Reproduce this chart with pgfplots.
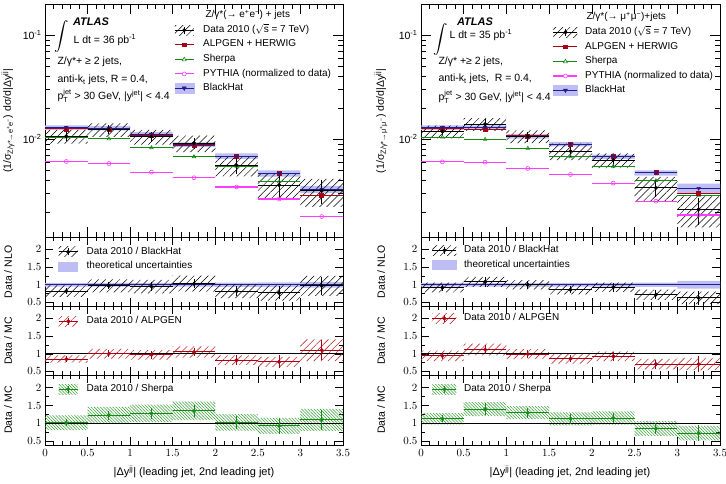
\documentclass[border=0pt]{standalone}
\usepackage{fontspec}
\setmainfont{Liberation Sans}
\usepackage{amsmath}
\usepackage{pgfplots}
\pgfplotsset{compat=1.18}
\usepackage{pgfplotstable}
\usetikzlibrary{patterns.meta}

\definecolor{alpred}{RGB}{170,0,20}
\definecolor{alphatchc}{RGB}{190,50,50}
\definecolor{shgreen}{RGB}{20,140,20}
\definecolor{shhatchc}{RGB}{60,160,60}
\definecolor{pymag}{RGB}{255,60,255}
\definecolor{bhblue}{RGB}{30,30,140}
\definecolor{bhband}{RGB}{190,190,245}

\newcommand{\txtfont}{\fontsize{10.5}{12}\selectfont}
\newcommand{\legfont}{\fontsize{10}{12}\selectfont}
\newcommand{\lblfont}{\fontsize{11}{13}\selectfont}

% Band tables: rows with k=1 run along the upper edge (bin low edges, last bin
% repeated at 3.5); rows with k=-1 come back along the lower edge.
% v = value, s = relative band half-width, t = relative statistical error.

% ---------------- electron channel ----------------
\pgfplotstableread{
e v s t k
0.0 0.0107 0.15 0.10 1
0.5 0.0124 0.15 0.10 1
1.0 0.0106 0.16 0.12 1
1.5 0.0092 0.18 0.12 1
2.0 0.00564 0.22 0.17 1
2.5 0.00363 0.28 0.24 1
3.0 0.0032 0.30 0.26 1
3.5 0.0032 0.30 0.26 1
3.5 0.0032 0.30 0.26 -1
3.0 0.00363 0.28 0.24 -1
2.5 0.00564 0.22 0.17 -1
2.0 0.0092 0.18 0.12 -1
1.5 0.0106 0.16 0.12 -1
1.0 0.0124 0.15 0.10 -1
0.5 0.0107 0.15 0.10 -1
0.0 0.0107 0.15 0.10 -1
}\elData
\pgfplotstableread{
e v s k
0.0 0.0130 0.05 1
0.5 0.0128 0.05 1
1.0 0.0112 0.05 1
1.5 0.0089 0.05 1
2.0 0.0069 0.06 1
2.5 0.0047 0.07 1
3.0 0.0033 0.08 1
3.5 0.0033 0.08 1
3.5 0.0033 0.08 -1
3.0 0.0047 0.07 -1
2.5 0.0069 0.06 -1
2.0 0.0089 0.05 -1
1.5 0.0112 0.05 -1
1.0 0.0128 0.05 -1
0.5 0.0130 0.05 -1
0.0 0.0130 0.05 -1
}\elBH
\pgfplotstableread{
e v s k
0.0 1 0.05 1
0.5 1 0.05 1
1.0 1 0.05 1
1.5 1 0.05 1
2.0 1 0.06 1
2.5 1 0.07 1
3.0 1 0.08 1
3.5 1 0.08 1
3.5 1 0.08 -1
3.0 1 0.07 -1
2.5 1 0.06 -1
2.0 1 0.05 -1
1.5 1 0.05 -1
1.0 1 0.05 -1
0.5 1 0.05 -1
0.0 1 0.05 -1
}\elTH
\pgfplotstableread{
e v
0.0 0.0126
0.5 0.0124
1.0 0.0109
1.5 0.0088
2.0 0.0069
2.5 0.0047
3.0 0.0029
}\elALP
\pgfplotstableread{
e v
0.0 0.0105
0.5 0.0101
1.0 0.0083
1.5 0.0068
2.0 0.0055
2.5 0.0039
3.0 0.0029
}\elSH
\pgfplotstableread{
e v
0.0 0.00612
0.5 0.00585
1.0 0.00483
1.5 0.00427
2.0 0.00348
2.5 0.00267
3.0 0.00181
}\elPY
\pgfplotstableread{
e v s t k
0.0 0.82 0.20 0.10 1
0.5 0.97 0.19 0.10 1
1.0 0.95 0.20 0.12 1
1.5 1.03 0.22 0.12 1
2.0 0.82 0.24 0.17 1
2.5 0.77 0.28 0.24 1
3.0 0.97 0.29 0.26 1
3.5 0.97 0.29 0.26 1
3.5 0.97 0.29 0.26 -1
3.0 0.77 0.28 0.24 -1
2.5 0.82 0.24 0.17 -1
2.0 1.03 0.22 0.12 -1
1.5 0.95 0.20 0.12 -1
1.0 0.97 0.19 0.10 -1
0.5 0.82 0.20 0.10 -1
0.0 0.82 0.20 0.10 -1
}\elRBH
\pgfplotstableread{
e v s t k
0.0 0.85 0.12 0.10 1
0.5 1.00 0.14 0.10 1
1.0 0.97 0.14 0.12 1
1.5 1.05 0.15 0.12 1
2.0 0.82 0.16 0.17 1
2.5 0.77 0.18 0.24 1
3.0 1.10 0.28 0.26 1
3.5 1.10 0.28 0.26 1
3.5 1.10 0.28 0.26 -1
3.0 0.77 0.18 0.24 -1
2.5 0.82 0.16 0.17 -1
2.0 1.05 0.15 0.12 -1
1.5 0.97 0.14 0.12 -1
1.0 1.00 0.14 0.10 -1
0.5 0.85 0.12 0.10 -1
0.0 0.85 0.12 0.10 -1
}\elRALP
\pgfplotstableread{
e v s t k
0.0 1.02 0.20 0.10 1
0.5 1.23 0.19 0.10 1
1.0 1.28 0.19 0.12 1
1.5 1.35 0.19 0.12 1
2.0 1.03 0.22 0.17 1
2.5 0.93 0.24 0.24 1
3.0 1.10 0.28 0.26 1
3.5 1.10 0.28 0.26 1
3.5 1.10 0.28 0.26 -1
3.0 0.93 0.24 0.24 -1
2.5 1.03 0.22 0.17 -1
2.0 1.35 0.19 0.12 -1
1.5 1.28 0.19 0.12 -1
1.0 1.23 0.19 0.10 -1
0.5 1.02 0.20 0.10 -1
0.0 1.02 0.20 0.10 -1
}\elRSH

% ---------------- muon channel ----------------
\pgfplotstableread{
e v s t k
0.0 0.0119 0.14 0.09 1
0.5 0.0140 0.14 0.12 1
1.0 0.0107 0.14 0.11 1
1.5 0.0077 0.18 0.12 1
2.0 0.0063 0.16 0.13 1
2.5 0.00342 0.27 0.18 1
3.0 0.00212 0.33 0.30 1
3.5 0.00212 0.33 0.30 1
3.5 0.00212 0.33 0.30 -1
3.0 0.00342 0.27 0.18 -1
2.5 0.0063 0.16 0.13 -1
2.0 0.0077 0.18 0.12 -1
1.5 0.0107 0.14 0.11 -1
1.0 0.0140 0.14 0.12 -1
0.5 0.0119 0.14 0.09 -1
0.0 0.0119 0.14 0.09 -1
}\muData
\pgfplotstableread{
e v s k
0.0 0.0130 0.05 1
0.5 0.0130 0.05 1
1.0 0.0107 0.05 1
1.5 0.0090 0.05 1
2.0 0.0068 0.05 1
2.5 0.00475 0.06 1
3.0 0.00338 0.11 1
3.5 0.00338 0.11 1
3.5 0.00338 0.11 -1
3.0 0.00475 0.06 -1
2.5 0.0068 0.05 -1
2.0 0.0090 0.05 -1
1.5 0.0107 0.05 -1
1.0 0.0130 0.05 -1
0.5 0.0130 0.05 -1
0.0 0.0130 0.05 -1
}\muBH
\pgfplotstableread{
e v s k
0.0 1 0.05 1
0.5 1 0.05 1
1.0 1 0.05 1
1.5 1 0.05 1
2.0 1 0.05 1
2.5 1 0.06 1
3.0 1 0.11 1
3.5 1 0.11 1
3.5 1 0.11 -1
3.0 1 0.06 -1
2.5 1 0.05 -1
2.0 1 0.05 -1
1.5 1 0.05 -1
1.0 1 0.05 -1
0.5 1 0.05 -1
0.0 1 0.05 -1
}\muTH
\pgfplotstableread{
e v
0.0 0.0127
0.5 0.0125
1.0 0.0108
1.5 0.0090
2.0 0.0068
2.5 0.0048
3.0 0.0030
}\muALP
\pgfplotstableread{
e v
0.0 0.0105
0.5 0.0100
1.0 0.0082
1.5 0.0068
2.0 0.0055
2.5 0.0040
3.0 0.0029
}\muSH
\pgfplotstableread{
e v
0.0 0.00607
0.5 0.00603
1.0 0.00524
1.5 0.00459
2.0 0.00379
2.5 0.00254
3.0 0.00187
}\muPY
\pgfplotstableread{
e v s t k
0.0 0.92 0.15 0.09 1
0.5 1.08 0.13 0.12 1
1.0 1.00 0.13 0.11 1
1.5 0.86 0.15 0.12 1
2.0 0.93 0.14 0.13 1
2.5 0.72 0.20 0.18 1
3.0 0.63 0.28 0.30 1
3.5 0.63 0.28 0.30 1
3.5 0.63 0.28 0.30 -1
3.0 0.72 0.20 0.18 -1
2.5 0.93 0.14 0.13 -1
2.0 0.86 0.15 0.12 -1
1.5 1.00 0.13 0.11 -1
1.0 1.08 0.13 0.12 -1
0.5 0.92 0.15 0.09 -1
0.0 0.92 0.15 0.09 -1
}\muRBH
\pgfplotstableread{
e v s t k
0.0 0.94 0.16 0.09 1
0.5 1.12 0.15 0.12 1
1.0 0.99 0.14 0.11 1
1.5 0.86 0.16 0.12 1
2.0 0.93 0.15 0.13 1
2.5 0.71 0.21 0.18 1
3.0 0.71 0.24 0.30 1
3.5 0.71 0.24 0.30 1
3.5 0.71 0.24 0.30 -1
3.0 0.71 0.21 0.18 -1
2.5 0.93 0.15 0.13 -1
2.0 0.86 0.16 0.12 -1
1.5 0.99 0.14 0.11 -1
1.0 1.12 0.15 0.12 -1
0.5 0.94 0.16 0.09 -1
0.0 0.94 0.16 0.09 -1
}\muRALP
\pgfplotstableread{
e v s t k
0.0 1.13 0.14 0.09 1
0.5 1.40 0.14 0.12 1
1.0 1.30 0.14 0.11 1
1.5 1.13 0.16 0.12 1
2.0 1.15 0.16 0.13 1
2.5 0.86 0.24 0.18 1
3.0 0.73 0.28 0.30 1
3.5 0.73 0.28 0.30 1
3.5 0.73 0.28 0.30 -1
3.0 0.86 0.24 0.18 -1
2.5 1.15 0.16 0.13 -1
2.0 1.13 0.16 0.12 -1
1.5 1.30 0.14 0.11 -1
1.0 1.40 0.14 0.12 -1
0.5 1.13 0.14 0.09 -1
0.0 1.13 0.14 0.09 -1
}\muRSH

\tikzset{
  datahatch/.style={draw=none, pattern={Lines[angle=45,distance=5pt,line width=0.5pt]}, pattern color=black},
  alphatch/.style={draw=none, pattern={Lines[angle=45,distance=5pt,line width=0.6pt]}, pattern color=alphatchc},
  shhatch/.style={draw=none, pattern={Lines[angle=-45,distance=2.2pt,line width=0.55pt]}, pattern color=shhatchc},
  theoband/.style={draw=none, fill=bhband},
  legtext/.style={anchor=base west, inner sep=0pt, font=\legfont},
}

% uncertainty band: one closed step outline, filled
\newcommand{\band}[2]{%
  \addplot[#2, const plot, forget plot]
    table[x=e, y expr={\thisrow{v}*(1+(\thisrow{k})*\thisrow{s})}] {#1};
}
% prediction: horizontal bin line with a marker at the bin centre
\newcommand{\mcline}[4]{%
  \addplot[only marks, color=#2, mark=#3, mark size=2pt, mark options={#4, line width=0.6pt},
    forget plot, skip coords between index={7}{16},
    error bars/.cd, x dir=both, x fixed=0.25, error mark=none,
    error bar style={line width=1.1pt, color=#2}]
    table[x expr=\thisrow{e}+0.25, y=v] {#1};
}
% measured points with bin width and statistical error
\newcommand{\datapts}[2]{%
  \addplot[only marks, color=#2, mark=*, mark size=1.8pt, forget plot,
    skip coords between index={7}{16},
    error bars/.cd, x dir=both, x fixed=0.25, y dir=both, y explicit relative,
    error mark=none, error bar style={line width=1pt, color=#2}]
    table[x expr=\thisrow{e}+0.25, y=v, y error=t] {#1};
}
% legend key only; its label is set as a separate text line beside it
\newcommand{\key}[1]{\addlegendimage{#1}\addlegendentry{}}

\pgfplotsset{
  atlasbase/.style={
    scale only axis, xmin=0, xmax=3.5,
    xtick={0,0.5,1,1.5,2,2.5,3,3.5}, minor x tick num=4,
    tick align=inside,
    tick style={black, line width=0.5pt},
    axis line style={line width=0.7pt},
    tick label style={font=\txtfont},
    xticklabel style={yshift=-1pt},
    legend cell align=left,
    legend style={draw=none, fill=none, font=\legfont, inner sep=0pt,
      row sep=0pt, nodes={inner xsep=3pt, inner ysep=2.3pt, text height=7.5pt, text depth=2.5pt}},
  },
  legdata/.style={legend image code/.code={
    \fill[datahatch] (0pt,-5pt) rectangle (\lw,5pt);
    \draw[black, line width=1pt] (0pt,0pt) -- (\lw,0pt);
    \draw[black, line width=1pt] ({0.5*\lw},-3.5pt) -- ({0.5*\lw},3.5pt);
    \fill[black] ({0.5*\lw},0pt) circle (1.8pt);}},
  legalp/.style={legend image code/.code={
    \draw[alpred, line width=1.1pt] (0pt,0pt) -- (\lw,0pt);
    \fill[alpred] ({0.5*\lw-1.8pt},-1.8pt) rectangle ({0.5*\lw+1.8pt},1.8pt);}},
  legsh/.style={legend image code/.code={
    \draw[shgreen, line width=1.1pt] (0pt,0pt) -- (\lw,0pt);
    \draw[shgreen, fill=white, line width=0.6pt] ({0.5*\lw-2pt},-1.5pt) -- ({0.5*\lw+2pt},-1.5pt) -- ({0.5*\lw},2.2pt) -- cycle;}},
  legpy/.style={legend image code/.code={
    \draw[pymag, line width=1.1pt] (0pt,0pt) -- (\lw,0pt);
    \draw[pymag, fill=white, line width=0.6pt] ({0.5*\lw},0pt) circle (2pt);}},
  legbh/.style={legend image code/.code={
    \fill[bhband] (0pt,-5pt) rectangle (\lw,5pt);
    \draw[bhblue, line width=1.1pt] (0pt,0pt) -- (\lw,0pt);
    \fill[bhblue] ({0.5*\lw-2pt},1.6pt) -- ({0.5*\lw+2pt},1.6pt) -- ({0.5*\lw},-2pt) -- cycle;}},
  legtheo/.style={legend image code/.code={
    \fill[bhband] (0pt,-4.5pt) rectangle (\lw,4.5pt);}},
  legralp/.style={legend image code/.code={
    \fill[alphatch] (0pt,-5pt) rectangle (\lw,5pt);
    \draw[alpred, line width=1pt] (0pt,0pt) -- (\lw,0pt);
    \draw[alpred, line width=1pt] ({0.5*\lw},-3.5pt) -- ({0.5*\lw},3.5pt);
    \fill[alpred] ({0.5*\lw},0pt) circle (1.8pt);}},
  legrsh/.style={legend image code/.code={
    \fill[shhatch] (0pt,-5pt) rectangle (\lw,5pt);
    \draw[shgreen, line width=1pt] (0pt,0pt) -- (\lw,0pt);
    \draw[shgreen, line width=1pt] ({0.5*\lw},-3.5pt) -- ({0.5*\lw},3.5pt);
    \fill[shgreen] ({0.5*\lw},0pt) circle (1.8pt);}},
}

\begin{document}
\begin{tikzpicture}
\useasboundingbox (0pt,0pt) rectangle (726pt,484pt);

% ================= electron channel (left) =================
\def\lw{19pt}
\begin{axis}[atlasbase, at={(45pt,247pt)}, anchor=south west, width=298pt, height=233pt,
  ymode=log, ymin=1.15e-3, ymax=0.2,
  ytick={0.01,0.1}, yticklabels={10\textsuperscript{-2},10\textsuperscript{-1}},
  minor ytick={0.002,0.003,0.004,0.005,0.006,0.007,0.008,0.009,0.02,0.03,0.04,0.05,0.06,0.07,0.08,0.09},
  xticklabels={}, major tick length=10pt, minor tick length=5pt,
  legend style={at={(0.433,0.92)}, anchor=north west}]
  \key{legdata}\key{legalp}\key{legsh}\key{legpy}\key{legbh}
  \band{\elBH}{theoband}
  \band{\elData}{datahatch}
  \mcline{\elPY}{pymag}{o}{fill=white}
  \mcline{\elSH}{shgreen}{triangle}{fill=white}
  \mcline{\elALP}{alpred}{square*}{}
  \mcline{\elBH}{bhblue}{triangle*}{rotate=180}
  \datapts{\elData}{black}
\end{axis}

\begin{axis}[atlasbase, at={(45pt,178pt)}, anchor=south west, width=298pt, height=69pt,
  ymin=0.4, ymax=2.35, ytick={0.5,1,1.5,2}, minor y tick num=1,
  major tick length=8pt, minor tick length=4pt,
  xticklabels={}, legend style={at={(0.0436,0.893)}, anchor=north west}]
  \key{legdata}\key{legtheo}
  \band{\elTH}{theoband}
  \addplot[bhblue, line width=1.2pt, forget plot] coordinates {(0,1) (3.5,1)};
  \band{\elRBH}{datahatch}
  \datapts{\elRBH}{black}
\end{axis}

\begin{axis}[atlasbase, at={(45pt,109pt)}, anchor=south west, width=298pt, height=69pt,
  ymin=0.4, ymax=2.35, ytick={0.5,1,1.5,2}, minor y tick num=1,
  major tick length=8pt, minor tick length=4pt,
  xticklabels={}, legend style={at={(0.0436,0.888)}, anchor=north west}]
  \key{legralp}
  \band{\elRALP}{alphatch}
  \addplot[black, line width=0.8pt, forget plot] coordinates {(0,1) (3.5,1)};
  \datapts{\elRALP}{alpred}
\end{axis}

\begin{axis}[atlasbase, at={(45pt,39pt)}, anchor=south west, width=298pt, height=70pt,
  ymin=0.4, ymax=2.35, ytick={0.5,1,1.5,2}, minor y tick num=1,
  major tick length=8pt, minor tick length=4pt,
  legend style={at={(0.0436,0.904)}, anchor=north west}]
  \key{legrsh}
  \band{\elRSH}{shhatch}
  \addplot[black, line width=0.8pt, forget plot] coordinates {(0,1) (3.5,1)};
  \datapts{\elRSH}{shgreen}
\end{axis}

% legend labels (electron)
\node[legtext] at (203pt,451.6pt) {Data 2010 ($\sqrt{\mbox{s}}$ = 7 TeV)};
\node[legtext] at (203pt,437.0pt) {ALPGEN + HERWIG};
\node[legtext] at (203pt,422.4pt) {Sherpa};
\node[legtext] at (203pt,407.8pt) {PYTHIA (normalized to data)};
\node[legtext] at (203pt,393.2pt) {BlackHat};
\node[legtext] at (86.5pt,229.8pt) {Data 2010 / BlackHat};
\node[legtext] at (86.5pt,215.2pt) {theoretical uncertainties};
\node[legtext] at (86.5pt,160.5pt) {Data 2010 / ALPGEN};
\node[legtext] at (86.5pt,92.5pt) {Data 2010 / Sherpa};

\node[font=\fontsize{11}{13}\selectfont\bfseries\itshape] at (91pt,462pt) {ATLAS};
\node[font=\fontsize{13.5}{14}\selectfont] at (62pt,447pt) {$\displaystyle\int$};
\node[anchor=west, font=\txtfont] at (70pt,444pt) {L dt = 36 pb\textsuperscript{-1}};
\node[anchor=west, font=\txtfont] at (54pt,422pt) {Z/γ*+ ≥ 2 jets,};
\node[anchor=west, font=\txtfont] at (54pt,404pt) {anti-k\textsubscript{t} jets, R = 0.4,};
\node[anchor=west, font=\txtfont] at (54pt,388pt) {$\text{p}_{\text{T}}^{\text{jet}}$ > 30 GeV, |y\textsuperscript{jet}| < 4.4};
\node[anchor=west, font=\legfont] at (202pt,469pt) {Z/γ*(→ e\textsuperscript{+}e\textsuperscript{−}) + jets};
\node[rotate=90, font=\txtfont] at (8pt,363pt) {(1/σ\textsubscript{Z/γ*→e\textsuperscript{+}e\textsuperscript{−}}) dσ/d|Δy\textsuperscript{jj}|};
\node[rotate=90, font=\txtfont] at (8pt,212pt) {Data / NLO};
\node[rotate=90, font=\txtfont] at (8pt,143pt) {Data / MC};
\node[rotate=90, font=\txtfont] at (8pt,74pt) {Data / MC};
\node[font=\lblfont] at (194pt,12pt) {|Δy\textsuperscript{jj}| (leading jet, 2nd leading jet)};

% ================= muon channel (right) =================
\def\lw{24pt}
\begin{axis}[atlasbase, at={(421pt,247pt)}, anchor=south west, width=299pt, height=233pt,
  ymode=log, ymin=1.15e-3, ymax=0.2,
  ytick={0.01,0.1}, yticklabels={10\textsuperscript{-2},10\textsuperscript{-1}},
  minor ytick={0.002,0.003,0.004,0.005,0.006,0.007,0.008,0.009,0.02,0.03,0.04,0.05,0.06,0.07,0.08,0.09},
  xticklabels={}, major tick length=10pt, minor tick length=5pt,
  legend style={at={(0.4405,0.911)}, anchor=north west}]
  \key{legdata}\key{legalp}\key{legsh}\key{legpy}\key{legbh}
  \band{\muBH}{theoband}
  \band{\muData}{datahatch}
  \mcline{\muPY}{pymag}{o}{fill=white}
  \mcline{\muSH}{shgreen}{triangle}{fill=white}
  \mcline{\muALP}{alpred}{square*}{}
  \mcline{\muBH}{bhblue}{triangle*}{rotate=180}
  \datapts{\muData}{black}
\end{axis}

\begin{axis}[atlasbase, at={(421pt,178pt)}, anchor=south west, width=299pt, height=69pt,
  ymin=0.4, ymax=2.35, ytick={0.5,1,1.5,2}, minor y tick num=1,
  major tick length=8pt, minor tick length=4pt,
  xticklabels={}, legend style={at={(0.036,0.917)}, anchor=north west}]
  \key{legdata}\key{legtheo}
  \band{\muTH}{theoband}
  \addplot[bhblue, line width=1.2pt, forget plot] coordinates {(0,1) (3.5,1)};
  \band{\muRBH}{datahatch}
  \datapts{\muRBH}{black}
\end{axis}

\begin{axis}[atlasbase, at={(421pt,109pt)}, anchor=south west, width=299pt, height=69pt,
  ymin=0.4, ymax=2.35, ytick={0.5,1,1.5,2}, minor y tick num=1,
  major tick length=8pt, minor tick length=4pt,
  xticklabels={}, legend style={at={(0.036,0.928)}, anchor=north west}]
  \key{legralp}
  \band{\muRALP}{alphatch}
  \addplot[black, line width=0.8pt, forget plot] coordinates {(0,1) (3.5,1)};
  \datapts{\muRALP}{alpred}
\end{axis}

\begin{axis}[atlasbase, at={(421pt,39pt)}, anchor=south west, width=299pt, height=70pt,
  ymin=0.4, ymax=2.35, ytick={0.5,1,1.5,2}, minor y tick num=1,
  major tick length=8pt, minor tick length=4pt,
  legend style={at={(0.036,0.904)}, anchor=north west}]
  \key{legrsh}
  \band{\muRSH}{shhatch}
  \addplot[black, line width=0.8pt, forget plot] coordinates {(0,1) (3.5,1)};
  \datapts{\muRSH}{shgreen}
\end{axis}

% legend labels (muon)
\node[legtext] at (585pt,449.5pt) {Data 2010 ($\sqrt{\mbox{s}}$ = 7 TeV)};
\node[legtext] at (585pt,434.9pt) {ALPGEN + HERWIG};
\node[legtext] at (585pt,420.3pt) {Sherpa};
\node[legtext] at (585pt,405.7pt) {PYTHIA (normalized to data)};
\node[legtext] at (585pt,391.1pt) {BlackHat};
\node[legtext] at (464pt,231.5pt) {Data 2010 / BlackHat};
\node[legtext] at (464pt,216.9pt) {theoretical uncertainties};
\node[legtext] at (464pt,163.2pt) {Data 2010 / ALPGEN};
\node[legtext] at (464pt,92.5pt) {Data 2010 / Sherpa};

\node[font=\fontsize{11}{13}\selectfont\bfseries\itshape] at (475pt,462pt) {ATLAS};
\node[font=\fontsize{13.5}{14}\selectfont] at (441pt,444pt) {$\displaystyle\int$};
\node[anchor=west, font=\txtfont] at (446pt,449pt) {L dt = 35 pb\textsuperscript{-1}};
\node[anchor=west, font=\txtfont] at (435pt,422pt) {Z/γ* +≥ 2 jets,};
\node[anchor=west, font=\txtfont] at (435pt,405pt) {anti-k\textsubscript{t} jets,~ R = 0.4,};
\node[anchor=west, font=\txtfont] at (435pt,387pt) {$\text{p}_{\text{T}}^{\text{jet}}$ > 30 GeV, |y\textsuperscript{jet}| < 4.4};
\node[anchor=west, font=\legfont] at (583pt,467pt) {Z/γ*(→ μ\textsuperscript{+}μ\textsuperscript{−})+jets};
\node[rotate=90, font=\txtfont] at (381pt,363pt) {(1/σ\textsubscript{Z/γ*→μ\textsuperscript{+}μ\textsuperscript{−}}) dσ/d|Δy\textsuperscript{jj}|};
\node[rotate=90, font=\txtfont] at (381pt,212pt) {Data / NLO};
\node[rotate=90, font=\txtfont] at (381pt,143pt) {Data / MC};
\node[rotate=90, font=\txtfont] at (381pt,74pt) {Data / MC};
\node[font=\lblfont] at (570pt,12pt) {|Δy\textsuperscript{jj}| (leading jet, 2nd leading jet)};
\end{tikzpicture}
\end{document}
